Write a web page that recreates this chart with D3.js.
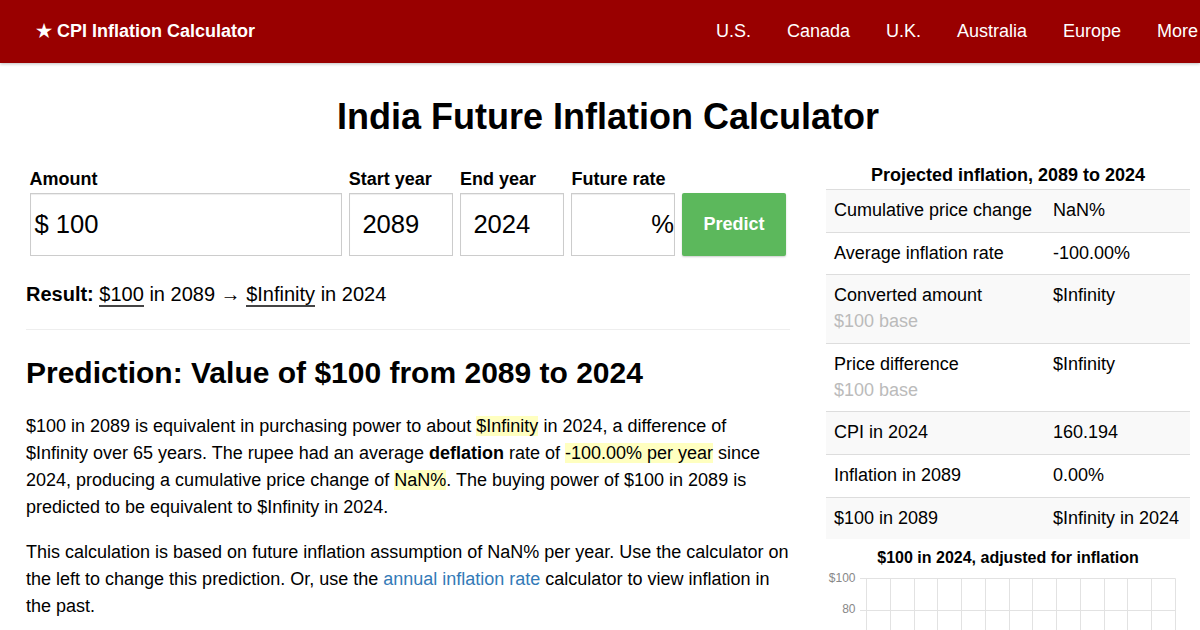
<!doctype html>
<html>
<head>
<meta charset="utf-8">
<title>India Future Inflation Calculator</title>
<script src="https://cdn.jsdelivr.net/npm/d3@7"></script>
<style>
  html, body { margin: 0; padding: 0; width: 1200px; height: 630px; overflow: hidden; background: #fff; }
  body { font-family: "Liberation Sans", Arial, sans-serif; color: #000; position: relative; }
  .abs { position: absolute; white-space: nowrap; }
  .nav { position: absolute; left: 0; top: 0; width: 1200px; height: 63px; background: #990000; box-shadow: 0 1px 3px rgba(0,0,0,.25); }
  .nav span { position: absolute; top: 20px; color: #fff; font-size: 18px; line-height: 22px; white-space: nowrap; }
  .nav .brand { font-weight: bold; }
  h1 { position: absolute; left: 0; width: 1216px; top: 95px; margin: 0; text-align: center; font-size: 36px; line-height: 44px; }
  .lab { font-weight: bold; font-size: 18px; line-height: 22px; top: 168px; }
  .box { position: absolute; top: 193px; height: 63px; box-sizing: border-box; border: 1px solid #ccc; box-shadow: inset 0 1px 1px rgba(0,0,0,.075); font-size: 25.6px; line-height: 61px; white-space: nowrap; }
  .btn { position: absolute; left: 682px; top: 193px; width: 104px; height: 63px; background: #5cb85c; border-radius: 2px; color: #fff; font-weight: bold; font-size: 18px; line-height: 62px; text-align: center; box-shadow: 0 1px 2px rgba(0,0,0,.2); }
  .u { border-bottom: 2px solid #444; }
  h2 { position: absolute; left: 26px; top: 354px; margin: 0; font-size: 30px; line-height: 38px; white-space: nowrap; }
  .para { position: absolute; left: 26px; width: 770px; font-size: 18px; line-height: 27px; }
  .para mark { background: #ffffc0; color: inherit; }
  .para a { color: #337ab7; }
  #side { position: absolute; left: 826px; top: 189px; width: 364px; border-collapse: collapse; font-size: 18px; line-height: 25.7px; }
  #side td { padding: 8px; border-top: 1px solid #ddd; vertical-align: top; }
  #side tr:nth-child(odd) td { background: #f9f9f9; }
  #side .sub { color: #bbb; }
  #chart { position: absolute; left: 820px; top: 565px; }
</style>
</head>
<body>
  <div class="nav" id="nav"></div>

  <h1>India Future Inflation Calculator</h1>

  <div class="abs lab" style="left:29.6px">Amount</div>
  <div class="abs lab" style="left:348.8px">Start year</div>
  <div class="abs lab" style="left:460px">End year</div>
  <div class="abs lab" style="left:571.4px">Future rate</div>

  <div class="box" style="left:30px;width:312px;padding-left:3.4px">$ 100</div>
  <div class="box" style="left:349px;width:104px;padding-left:12.4px">2089</div>
  <div class="box" style="left:460px;width:104px;padding-left:12.4px">2024</div>
  <div class="box" style="left:571px;width:104px;text-align:right">%</div>
  <div class="btn">Predict</div>

  <div class="abs" style="left:26px;top:281px;font-size:20px;line-height:26px"><b>Result:</b> <span class="u">$100</span> in 2089 → <span class="u">$Infinity</span> in 2024</div>
  <div style="position:absolute;left:26px;top:329px;width:764px;height:1px;background:#eee"></div>

  <h2>Prediction: Value of $100 from 2089 to 2024</h2>

  <div class="para" style="top:413px">$100 in 2089 is equivalent in purchasing power to about <mark>$Infinity</mark> in 2024, a difference of<br>$Infinity over 65 years. The rupee had an average <b>deflation</b> rate of <mark>-100.00% per year</mark> since<br>2024, producing a cumulative price change of <mark>NaN%</mark>. The buying power of $100 in 2089 is<br>predicted to be equivalent to $Infinity in 2024.</div>
  <div class="para" style="top:539px">This calculation is based on future inflation assumption of NaN% per year. Use the calculator on<br>the left to change this prediction. Or, use the <a>annual inflation rate</a> calculator to view inflation in<br>the past.</div>

  <div class="abs" style="left:826px;width:364px;top:164px;text-align:center;font-weight:bold;font-size:18px;line-height:22px">Projected inflation, 2089 to 2024</div>
  <table id="side"></table>

  <div class="abs" style="left:826px;width:364px;top:548px;text-align:center;font-weight:bold;font-size:16px;line-height:20px">$100 in 2024, adjusted for inflation</div>
  <svg id="chart" width="380" height="65"></svg>

<script>
const navLinks = ["U.S.", "Canada", "U.K.", "Australia", "Europe", "More"];
const navLefts = [716, 787, 886, 957, 1063, 1157];

const rowLabels = ["Cumulative price change", "Average inflation rate", "Converted amount", "Price difference", "CPI in 2024", "Inflation in 2089", "$100 in 2089"];
const rowSubs = ["", "", "$100 base", "$100 base", "", "", ""];
const rowValues = ["NaN%", "-100.00%", "$Infinity", "$Infinity", "160.194", "0.00%", "$Infinity in 2024"];

// only the top of the chart is on screen, the line itself is below the fold
const yTicks = [100, 80];
const xSlots = [0, 1, 2, 3, 4, 5, 6, 7, 8, 9, 10, 11, 12, 13];

// Top bar
const nav = d3.select("#nav");
nav.append("span").attr("class", "brand").style("left", "36px").text("★ CPI Inflation Calculator");
nav.selectAll("span.link")
  .data(navLinks)
  .join("span")
    .attr("class", "link")
    .style("left", (d, i) => navLefts[i] + "px")
    .text(d => d);

// Side table
const rows = d3.select("#side").selectAll("tr")
  .data(rowLabels)
  .join("tr");
rows.append("td")
  .style("width", "203px")
  .html((d, i) => rowSubs[i] ? d + '<br><span class="sub">' + rowSubs[i] + "</span>" : d);
rows.append("td").text((d, i) => rowValues[i]);

// Chart
const svg = d3.select("#chart");
const y = d3.scaleLinear().domain([0, 100]).range([172.5, 13.5]);
const x = d3.scalePoint().domain(xSlots).range([46.5, 355.5]);

svg.append("g")
  .selectAll("line")
  .data(yTicks)
  .join("line")
    .attr("x1", 40)
    .attr("x2", 355.5)
    .attr("y1", d => Math.floor(y(d)) + .5)
    .attr("y2", d => Math.floor(y(d)) + .5)
    .attr("stroke", "#e2e2e2");

svg.append("g")
  .selectAll("line")
  .data(xSlots)
  .join("line")
    .attr("x1", d => Math.floor(x(d)) + .5)
    .attr("x2", d => Math.floor(x(d)) + .5)
    .attr("y1", 13.5)
    .attr("y2", 65)
    .attr("stroke", "#e2e2e2");

svg.append("g")
  .selectAll("text")
  .data(yTicks)
  .join("text")
    .attr("x", 35.5)
    .attr("y", d => y(d) + 3)
    .attr("text-anchor", "end")
    .attr("font-size", 12)
    .attr("fill", "#888")
    .text(d => d === 100 ? "$100" : d);
</script>
</body>
</html>
